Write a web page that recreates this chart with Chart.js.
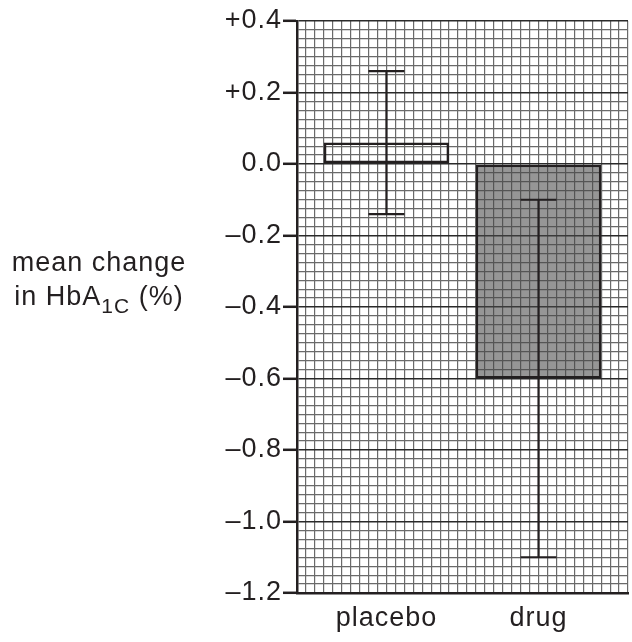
<!DOCTYPE html>
<html>
<head>
<meta charset="utf-8">
<script src="https://cdn.jsdelivr.net/npm/chart.js@4"></script>
<style>
  html, body { margin: 0; padding: 0; background: #fff; }
  #wrap { width: 632px; height: 642px; position: relative; }
</style>
</head>
<body>
<div id="wrap"><canvas id="c"></canvas></div>
<script>
// ---- data ----
const categories = ['placebo', 'drug'];
const meanChange = [0.06, -0.6];
const errLow = [-0.14, -1.1];
const errHigh = [0.26, -0.1];
const yTickValues = [-1.2, -1.0, -0.8, -0.6, -0.4, -0.2, 0.0, 0.2, 0.4];
const yTitleLine1 = 'mean change';
const yTitleLine2 = ['in HbA', '1C', ' (%)'];

const FONT = '"Liberation Sans", Arial, Helvetica, sans-serif';
const INK = '#231f20';
const SPACING = '1px';
const FSIZE = 27;
const Y_MIN = -1.2, Y_MAX = 0.4, Y_MINOR = 0.025;
const GRID_COLS = 37;

function fmt(v) {
  if (Math.abs(v) < 1e-9) return '0.0';
  return (v > 0 ? '+' : '\u2013') + Math.abs(v).toFixed(1);
}
function isMajor(v) {
  return yTickValues.some(t => Math.abs(t - v) < 1e-6);
}

const spacingPlugin = {
  id: 'spacing',
  beforeLayout(chart) { chart.ctx.letterSpacing = SPACING; },
  beforeDraw(chart) { chart.ctx.letterSpacing = SPACING; }
};

const errorBars = {
  id: 'errorBars',
  afterDatasetsDraw(chart) {
    const ctx = chart.ctx, xs = chart.scales.x, ys = chart.scales.y;
    ctx.save();
    ctx.strokeStyle = INK;
    ctx.lineWidth = 2.2;
    categories.forEach((c, i) => {
      const x = xs.getPixelForValue(i);
      const yl = ys.getPixelForValue(errLow[i]);
      const yh = ys.getPixelForValue(errHigh[i]);
      const half = 18;
      ctx.beginPath();
      ctx.moveTo(x, yl); ctx.lineTo(x, yh);
      ctx.moveTo(x - half, yl); ctx.lineTo(x + half, yl);
      ctx.moveTo(x - half, yh); ctx.lineTo(x + half, yh);
      ctx.stroke();
    });
    ctx.restore();
  }
};

const yTitle = {
  id: 'yTitle',
  afterDraw(chart) {
    const ctx = chart.ctx;
    ctx.save();
    ctx.letterSpacing = SPACING;
    ctx.fillStyle = INK;
    ctx.textBaseline = 'alphabetic';
    const big = FSIZE + 'px ' + FONT, small = Math.round(FSIZE * 0.78) + 'px ' + FONT;
    const cx = 99;
    ctx.font = big;
    ctx.textAlign = 'left';
    const wl1 = ctx.measureText(yTitleLine1).width;
    ctx.fillText(yTitleLine1, cx - wl1 / 2, 271);
    ctx.font = big; const w0 = ctx.measureText(yTitleLine2[0]).width;
    ctx.font = small; const w1 = ctx.measureText(yTitleLine2[1]).width;
    ctx.font = big; const w2 = ctx.measureText(yTitleLine2[2]).width;
    let x = cx - (w0 + w1 + w2) / 2;
    const base = 305;
    ctx.font = big; ctx.fillText(yTitleLine2[0], x, base); x += w0;
    ctx.font = small; ctx.fillText(yTitleLine2[1], x, base + 8); x += w1;
    ctx.font = big; ctx.fillText(yTitleLine2[2], x, base);
    ctx.restore();
  }
};

new Chart(document.getElementById('c'), {
  type: 'bar',
  data: {
    datasets: [{
      data: categories.map((c, i) => ({ x: i, y: meanChange[i] })),
      backgroundColor: ['rgba(255,255,255,0)', 'rgba(70,70,70,0.57)'],
      borderColor: INK,
      borderWidth: 2.4,
      borderSkipped: false,
      categoryPercentage: 1,
      barPercentage: 14 / 17
    }]
  },
  options: {
    responsive: true,
    maintainAspectRatio: false,
    animation: false,
    layout: { padding: { left: 0, right: 4, top: 21, bottom: 0 } },
    plugins: { legend: { display: false }, tooltip: { enabled: false } },
    scales: {
      x: {
        type: 'linear',
        offset: false,
        min: -10 / 17,
        max: 1 + 10 / 17,
        afterBuildTicks: s => { s.ticks = categories.map((c, i) => ({ value: i })); },
        afterFit: s => { s.height = 49; },
        ticks: {
          autoSkip: false,
          maxRotation: 0,
          padding: 9,
          color: INK,
          font: { family: FONT, size: FSIZE },
          callback: v => categories[Math.round(v)] ?? ''
        },
        grid: { display: false, drawTicks: false, offset: false },
        border: { display: true, color: INK, width: 2.5 }
      },
      x2: {
        type: 'linear',
        position: 'top',
        offset: false,
        min: 0,
        max: GRID_COLS,
        ticks: { display: false, stepSize: 1 },
        afterBuildTicks: s => {
          const t = [];
          for (let k = 0; k <= GRID_COLS; k++) t.push({ value: k });
          s.ticks = t;
        },
        afterFit: s => { s.height = 0; },
        grid: { display: true, drawTicks: false, offset: false, color: '#6a6a6a', lineWidth: 1.2 },
        border: { display: false }
      },
      y: {
        type: 'linear',
        min: Y_MIN,
        max: Y_MAX,
        afterBuildTicks: s => {
          const t = [];
          const n = Math.round((Y_MAX - Y_MIN) / Y_MINOR);
          for (let k = 0; k <= n; k++) t.push({ value: +(Y_MIN + k * Y_MINOR).toFixed(4) });
          s.ticks = t;
        },
        afterFit: s => { s.width = 297; },
        ticks: {
          autoSkip: false,
          padding: 1,
          color: INK,
          font: { family: FONT, size: FSIZE },
          callback: v => isMajor(v) ? fmt(v) : ''
        },
        grid: {
          drawTicks: true,
          tickLength: 14,
          color: ctx => isMajor(ctx.tick.value) ? '#2a2a2a' : '#6a6a6a',
          lineWidth: ctx => isMajor(ctx.tick.value) ? 1.6 : 1.2,
          tickColor: ctx => isMajor(ctx.tick.value) ? INK : 'rgba(0,0,0,0)',
          tickWidth: ctx => isMajor(ctx.tick.value) ? 2.5 : 0
        },
        border: { display: true, color: INK, width: 2.5 }
      }
    }
  },
  plugins: [spacingPlugin, errorBars, yTitle]
});
</script>
</body>
</html>
